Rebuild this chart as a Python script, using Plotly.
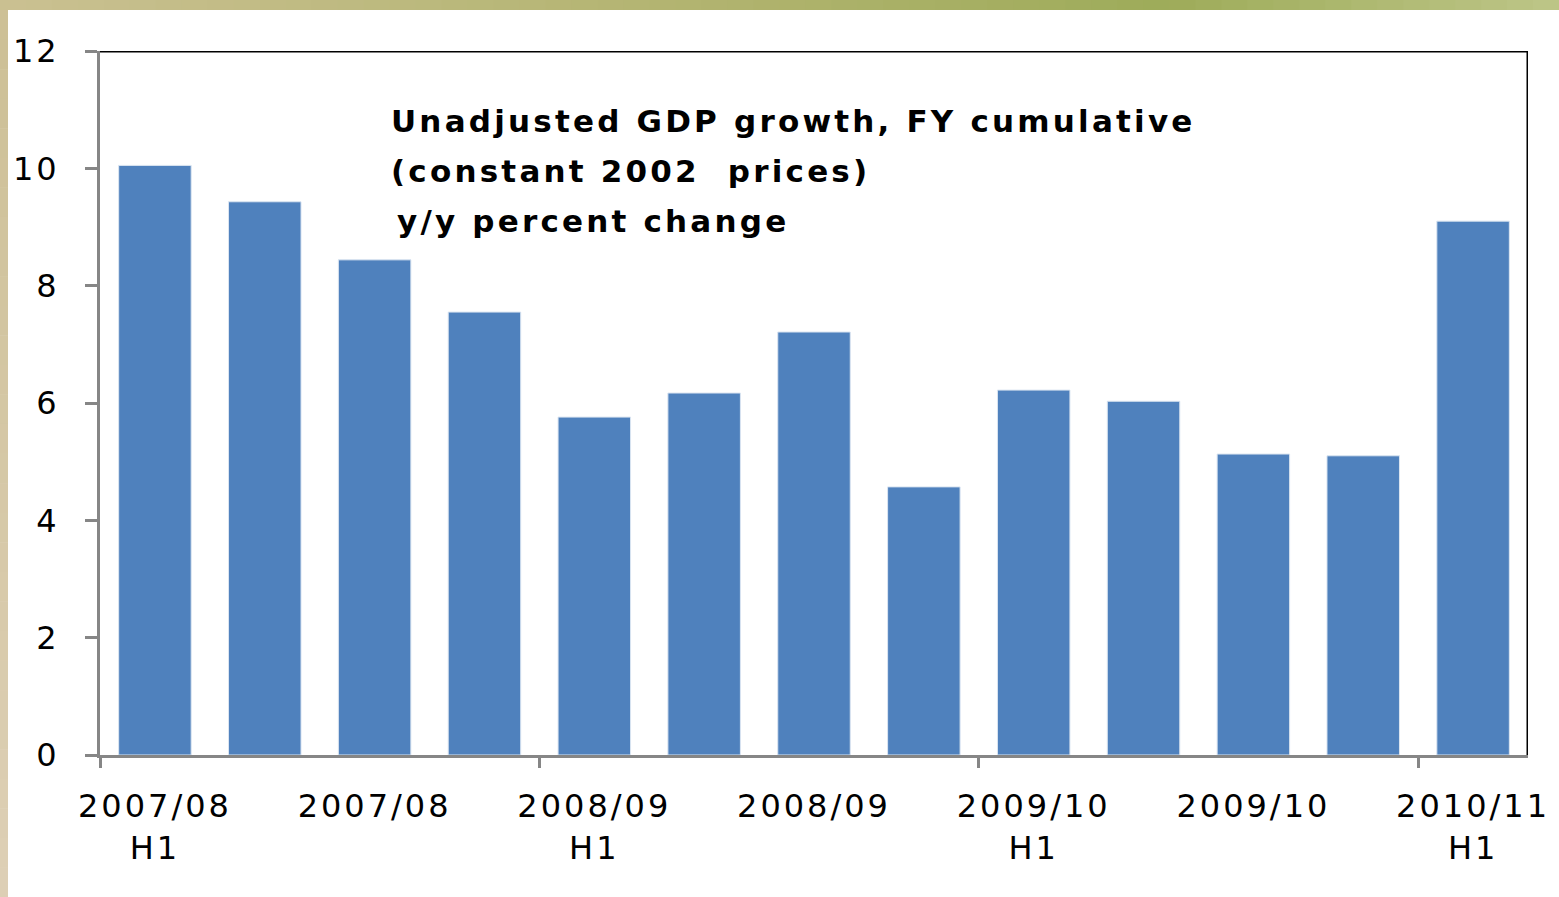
import plotly.graph_objects as go

# Half-year periods (FY cumulative), oldest first
periods = ["2007/08 H1", "2007/08 Q3", "2007/08", "2008/09 Q1", "2008/09 H1",
           "2008/09 Q3", "2008/09", "2009/10 Q1", "2009/10 H1", "2009/10 Q3",
           "2009/10", "2010/11 Q1", "2010/11 H1"]
growth = [10.05, 9.43, 8.44, 7.55, 5.76, 6.17, 7.21, 4.57, 6.22, 6.03, 5.13, 5.10, 9.10]

# Labelled categories and their text
label_idx = [0, 2, 4, 6, 8, 10, 12]
label_text = ["2007/08<br>H1", "2007/08", "2008/09<br>H1", "2008/09",
              "2009/10<br>H1", "2009/10", "2010/11<br>H1"]
# Year separators (between category groups)
sep_pos = [-0.5, 3.5, 7.5, 11.5]

y_ticks = [0, 2, 4, 6, 8, 10, 12]
title_lines = ["Unadjusted GDP growth, FY cumulative",
               "(constant 2002  prices)",
               "y/y percent change"]

W, H = 1559, 897
px_l, px_r, px_t, px_b = 100, 1528, 51, 755
title_x = [389, 389, 395]
title_y = [121, 171, 221]


def fx(p):
    return p / W


def fy(p):
    return 1 - p / H


BAR = "#4f81bd"
AXIS_GRAY = "#868686"
FONT = "DejaVu Sans"

fig = go.Figure()
fig.add_trace(go.Bar(
    x=list(range(len(growth))), y=growth, marker_color=BAR,
    marker_line_color="#dbe5f1", marker_line_width=1,
    width=0.66, hoverinfo="y", showlegend=False,
))
# invisible trace that carries the separator-tick axis
fig.add_trace(go.Scatter(x=sep_pos, y=[0] * len(sep_pos), xaxis="x2",
                         mode="markers", marker_opacity=0, showlegend=False,
                         hoverinfo="skip"))

shapes = []
# top gradient band: beige -> olive -> pale green
stops = [(0.0, (203, 193, 146)), (0.45, (178, 180, 112)), (0.75, (158, 172, 90)),
         (1.0, (190, 198, 136))]
n = 60
for i in range(n):
    t = (i + 0.5) / n
    for (a, ca), (b, cb) in zip(stops[:-1], stops[1:]):
        if a <= t <= b:
            u = (t - a) / (b - a)
            c = tuple(int(ca[k] + (cb[k] - ca[k]) * u) for k in range(3))
            break
    shapes.append(dict(type="rect", xref="paper", yref="paper",
                       x0=i / n, x1=(i + 1) / n + 0.001, y0=fy(10), y1=1,
                       fillcolor="rgb(%d,%d,%d)" % c, line_width=0, layer="below"))
# left beige band
m = 30
for i in range(m):
    t = (i + 0.5) / m
    c = tuple(int(a + (b - a) * t) for a, b in zip((205, 192, 150), (222, 208, 182)))
    shapes.append(dict(type="rect", xref="paper", yref="paper",
                       x0=0, x1=fx(8), y0=fy(10 + (H - 10) * (i + 1) / m + 0.5),
                       y1=fy(10 + (H - 10) * i / m),
                       fillcolor="rgb(%d,%d,%d)" % c, line_width=0, layer="below"))
# black top and right frame of the plot area
shapes.append(dict(type="line", xref="x", yref="y", x0=-0.5, x1=12.5, y0=12, y1=12,
                   line=dict(color="black", width=3)))
shapes.append(dict(type="line", xref="x", yref="y", x0=12.5, x1=12.5, y0=0, y1=12,
                   line=dict(color="black", width=3)))

annotations = []
for line, xl, yc in zip(title_lines, title_x, title_y):
    annotations.append(dict(
        text="<b>%s</b>" % line,
        xref="paper", yref="paper", x=fx(xl), y=fy(yc), align="left",
        xanchor="left", yanchor="middle", showarrow=False,
        font=dict(family=FONT, size=31, color="black")))

fig.update_layout(
    width=W, height=H, margin=dict(l=0, r=0, t=0, b=0, autoexpand=False),
    paper_bgcolor="white", plot_bgcolor="white",
    bargap=0.34, shapes=shapes, annotations=annotations,
    font=dict(family=FONT, size=32, color="black"),
    xaxis=dict(domain=[fx(px_l), fx(px_r)], range=[-0.5, 12.5], automargin=False,
               tickvals=label_idx, ticktext=label_text, ticks="",
               showline=True, linecolor=AXIS_GRAY, linewidth=3,
               showgrid=False, zeroline=False, ticklabelstandoff=21,
               tickfont=dict(family=FONT, size=32)),
    xaxis2=dict(domain=[fx(px_l), fx(px_r)], range=[-0.5, 12.5], overlaying="x",
                anchor="y", side="bottom", tickvals=sep_pos, ticks="outside",
                automargin=False,
                ticklen=12, tickwidth=3, tickcolor=AXIS_GRAY, showticklabels=False,
                showline=False, showgrid=False, zeroline=False),
    yaxis=dict(domain=[fy(px_b), fy(px_t)], range=[0, 12], tickvals=y_ticks,
               automargin=False,
               ticks="outside", ticklen=12, tickwidth=3, tickcolor=AXIS_GRAY,
               showline=True, linecolor=AXIS_GRAY, linewidth=3,
               showgrid=False, zeroline=False, ticklabelstandoff=19,
               tickfont=dict(family=FONT, size=32)),
)

# page without body margin; wider tracking for the text
page_js = (
    "document.body.style.margin='0';"
    "document.body.style.overflow='hidden';"
    "var s=document.createElement('style');"
    "s.textContent='.xtick text,.ytick text{letter-spacing:3px}"
    ".annotation-text{letter-spacing:3.2px}';"
    "document.head.appendChild(s);"
)
fig.write_html("out.html", post_script=page_js)
